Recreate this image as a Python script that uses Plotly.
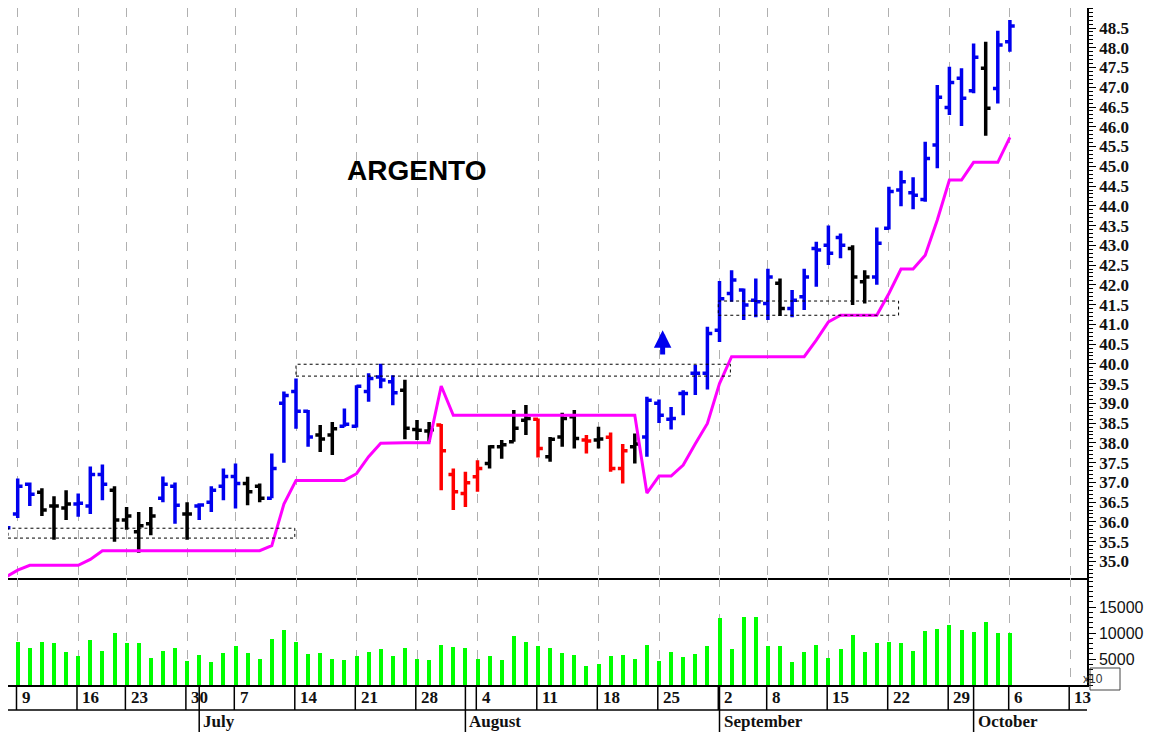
import plotly.graph_objects as go

dates = ["06-06","06-09","06-10","06-11","06-12","06-13","06-16","06-17","06-18","06-19",
 "06-23","06-24","06-25","06-26","06-27","06-30","07-01","07-02","07-03","07-07","07-08","07-09",
 "07-10","07-11","07-14","07-15","07-16","07-17","07-18","07-21","07-22","07-23","07-24","07-25",
 "07-28","07-29","07-30","07-31","08-01","08-04","08-05","08-06","08-07","08-08","08-11","08-12",
 "08-13","08-14","08-15","08-18","08-19","08-20","08-21","08-22","08-25","08-26","08-27","08-28",
 "08-29","09-02","09-03","09-04","09-05","09-08","09-09","09-10","09-11","09-12","09-15","09-16",
 "09-17","09-18","09-19","09-22","09-23","09-24","09-25","09-26","09-29","09-30","10-01","10-02",
 "10-03","10-06"]
opens = [35.8,36.2,36.95,36.75,36.4,36.35,36.45,36.4,37.2,36.8,
 36.05,35.75,35.95,36.6,36.9,36.2,36.4,36.5,36.9,37.15,36.97,36.9,
 36.6,39.0,39.3,38.8,38.2,38.2,38.42,38.42,39.3,39.67,39.55,39.33,
 38.34,38.3,38.45,37.2,36.72,37.14,37.48,37.9,38.03,38.57,38.6,37.65,
 38.15,38.66,38.07,38.07,38.14,37.35,37.9,38.15,39.0,38.6,39.25,39.76,
 39.76,40.85,41.78,41.87,41.61,41.53,42.04,41.4,41.7,42.92,43.0,43.2,
 42.92,42.08,42.2,43.43,44.4,44.33,44.16,45.54,46.49,47.23,46.91,47.48,
 46.97,48.15]
highs = [36.55,37.1,37.0,36.85,36.65,36.8,36.72,37.4,37.45,36.9,
 36.38,36.25,36.38,37.15,37.0,36.5,36.47,36.9,37.35,37.48,37.14,36.97,
 37.73,39.3,39.63,38.83,38.45,38.53,38.87,39.46,39.76,40.0,39.71,39.6,
 38.58,38.53,38.48,37.35,37.27,37.56,37.94,38.07,38.83,38.96,38.62,38.15,
 38.76,38.83,38.2,38.41,38.26,37.97,38.24,39.17,39.1,38.91,39.33,39.97,
 40.94,42.1,42.37,41.91,42.16,42.41,42.16,41.87,42.41,43.09,43.5,43.3,
 43.0,42.37,43.45,44.48,44.89,44.72,45.62,47.06,47.52,47.48,48.11,48.15,
 48.43,48.7]
lows = [35.75,36.1,36.4,36.15,35.55,36.05,36.13,36.2,36.55,35.5,
 35.8,35.22,35.66,36.5,35.95,35.55,36.05,36.25,36.55,36.34,36.42,36.5,
 36.6,37.5,38.36,37.9,37.77,37.69,38.41,38.39,39.04,39.38,38.95,38.09,
 38.07,38.03,36.8,36.3,36.38,36.76,37.35,37.6,38.03,38.2,37.63,37.52,
 37.9,37.86,37.73,37.86,37.27,36.97,37.48,37.65,38.5,38.34,38.7,39.21,
 39.35,40.55,41.57,41.11,41.18,41.11,41.21,41.18,41.36,41.95,42.5,42.67,
 41.49,41.53,42.0,43.4,43.99,43.91,44.1,44.95,46.3,46.02,46.85,45.77,
 46.59,47.9]
closes = [35.85,36.9,36.7,36.3,36.4,36.45,36.47,37.2,36.95,36.05,
 36.15,35.9,36.15,36.95,36.42,36.2,36.43,36.8,37.15,36.97,36.76,36.6,
 37.35,39.2,38.8,38.15,38.1,38.36,38.47,39.43,39.63,39.59,39.27,38.37,
 38.32,38.33,37.8,36.76,36.99,37.35,37.9,37.95,38.37,38.62,37.86,38.09,
 38.62,38.11,38.05,38.1,37.35,37.8,37.97,39.08,38.7,38.62,39.25,39.76,
 40.77,41.65,42.12,41.49,41.57,42.2,41.4,41.61,42.2,42.88,42.8,43.0,
 42.2,42.2,43.05,44.36,44.61,44.27,45.2,46.75,47.12,46.72,47.76,46.47,
 48.07,48.55]
bar_colors = list("bbbkkkbbbkkkkbbkbbbbkkbbbbkkbbbbbkkkrrrrkkkkrkkkrkrrkbbbbbbbbbbbkbbbbbkkbbbbbbbbbkbb")
stop_line = [34.6,34.78,34.9,34.9,34.9,34.9,34.9,35.05,35.27,35.27,
 35.27,35.27,35.27,35.27,35.27,35.27,35.27,35.27,35.27,35.27,35.27,35.27,
 35.4,36.45,37.05,37.05,37.05,37.05,37.05,37.22,37.65,37.99,38.0,38.0,
 38.0,38.0,39.44,38.7,38.7,38.7,38.7,38.7,38.7,38.7,38.7,38.7,
 38.7,38.7,38.7,38.7,38.7,38.7,38.7,36.73,37.16,37.16,37.44,37.98,
 38.49,39.5,40.18,40.18,40.18,40.18,40.18,40.18,40.18,40.6,41.06,41.23,
 41.23,41.23,41.23,41.78,42.4,42.4,42.75,43.64,44.65,44.65,45.1,45.1,
 45.1,45.73]
volumes = [8820,8310,7150,8240,8050,6380,5540,8570,6630,9920,8050,8050,5150,6630,7210,4640,
 5730,4440,6120,7470,6120,4960,8820,10500,8310,6050,6120,4960,4770,5540,6380,6960,5540,7150,
 5020,4770,7730,7280,7150,5020,5540,4770,9400,8310,7470,7210,6120,5800,
 3740,4120,5540,5730,4960,7660,4570,6310,5470,5990,7410,12880,6890,13010,13010,7470,7410,4380,
 6310,7660,5220,6890,9530,6310,8050,8240,8050,6570,10430,10750,11530,10560,10180,12110,9920,9980]

day_tick_idx = [1,6,10,15,19,24,29,34,39,44,49,54,59,63,68,73,78,83,88]
day_tick_text = ["9","16","23","30","7","14","21","28","4","11","18","25","2","8","15","22","29","6","13"]
month_idx = [16,38,59,80]
month_text = ["July","August","September","October"]
vol_ticks = [5000, 10000, 15000]
title_text = "ARGENTO"

# page has an 8px body margin: figure occupies (8,8)-(1159,732)
OFF = 8
W, H = 1159 - OFF, 732 - OFF
def fx(px): return (px - OFF) / W
def fy(py): return 1 - (py - OFF) / H

xs = list(range(len(dates)))
cmap = {"b": "#0000ee", "k": "#000000", "r": "#ff0000"}

fig = go.Figure()
for key, col in cmap.items():
    sel = [i for i in xs if bar_colors[i] == key]
    fig.add_trace(go.Ohlc(x=sel, open=[opens[i] for i in sel], high=[highs[i] for i in sel],
        low=[lows[i] for i in sel], close=[closes[i] for i in sel],
        increasing=dict(line=dict(color=col, width=3.5)), decreasing=dict(line=dict(color=col, width=3.5)),
        tickwidth=0.4, xaxis="x", yaxis="y", showlegend=False, hoverinfo="skip"))
fig.add_trace(go.Scatter(x=xs, y=stop_line, mode="lines", line=dict(color="#ff00ff", width=3),
                         xaxis="x", yaxis="y", showlegend=False))
fig.add_trace(go.Bar(x=xs, y=volumes, marker=dict(color="#00ff00", line=dict(width=0)), width=0.33,
                     xaxis="x2", yaxis="y2", showlegend=False))

xr = [(OFF - 5.6) / 12.1, (1087 - 5.6) / 12.1]
serif = dict(family="Liberation Serif", size=17, color="#111")
common_x = dict(range=xr, domain=[0, fx(1087)], tickvals=day_tick_idx, showticklabels=False,
                showgrid=True, gridcolor="#b0b0b0", griddash="dash", gridwidth=1,
                zeroline=False, showline=True, linecolor="black", linewidth=1.5, ticks="",
                rangeslider=dict(visible=False))
fig.update_layout(
    width=W, height=H, margin=dict(l=0, r=0, t=0, b=0),
    paper_bgcolor="white", plot_bgcolor="white", bargap=0,
    xaxis=dict(**common_x, anchor="y"),
    xaxis2=dict(**common_x, anchor="y2"),
    yaxis=dict(domain=[fy(578), 1], range=[34.58, 48.5 + 20 / 39.5], side="right", anchor="x",
               tickvals=[35+0.5*i for i in range(28)], ticktext=[f"<b>{35+0.5*i:.1f}</b>" for i in range(28)],
               ticks="outside", ticklen=7, tickcolor="black", showgrid=False, zeroline=False,
               showline=True, linecolor="black", linewidth=1.5,
               tickfont=dict(family="Liberation Serif", size=17, color="#111"),
               minor=dict(dtick=0.1, ticks="outside", ticklen=4, tickcolor="black")),
    yaxis2=dict(domain=[fy(685), fy(578)], range=[0, 20580], side="right", anchor="x2",
                tickvals=vol_ticks, ticktext=[str(v) for v in vol_ticks], ticks="outside", ticklen=7,
                tickcolor="black", showgrid=False, zeroline=False, showline=True, linecolor="black",
                linewidth=1.5, tickfont=dict(family="Liberation Sans", size=16, color="#111"),
                minor=dict(dtick=1000, ticks="outside", ticklen=4, tickcolor="black")),
)

shapes = []
def rect(x0, x1, y0, y1):
    shapes.append(dict(type="rect", xref="x", yref="y", x0=x0, x1=x1, y0=y0, y1=y1,
                       line=dict(color="black", width=1, dash="dot")))
rect(xr[0], 23.9, 35.59, 35.84)
rect(24.0, 59.9, 39.69, 39.99)
rect(58.9, 73.8, 41.23, 41.59)

yb, ym = fy(685), fy(710)
shapes.append(dict(type="line", xref="x2", yref="paper", x0=xr[0], x1=xr[1], y0=ym, y1=ym,
                   line=dict(color="black", width=1.5)))
for t in day_tick_idx:
    shapes.append(dict(type="line", xref="x2", yref="paper", x0=t-0.1, x1=t-0.1, y0=ym, y1=yb,
                       line=dict(color="black", width=1.5)))
for m in month_idx:
    shapes.append(dict(type="line", xref="x2", yref="paper", x0=m, x1=m, y0=0, y1=yb,
                       line=dict(color="black", width=1.5)))
shapes.append(dict(type="rect", xref="paper", yref="paper", x0=fx(1090), x1=fx(1120),
                   y0=fy(690), y1=fy(668), line=dict(color="#444", width=1)))
fig.update_layout(shapes=shapes)

ann = []
for t, s in zip(day_tick_idx, day_tick_text):
    ann.append(dict(x=t, y=fy(697), xref="x2", yref="paper", text=f"<b>{s}</b>", showarrow=False,
                    xanchor="left", yanchor="middle", xshift=2, font=serif))
for m, s in zip(month_idx, month_text):
    ann.append(dict(x=m, y=fy(721), xref="x2", yref="paper", text=f"<b>{s}</b>", showarrow=False,
                    xanchor="left", yanchor="middle", xshift=2, font=serif))
ann.append(dict(x=fx(1105), y=fy(679), xref="paper", yref="paper", text="x10", showarrow=False,
                yanchor="middle", font=dict(family="Liberation Sans", size=12, color="#333")))
ann.append(dict(x=34, y=44.9, xref="x", yref="y", text=f"<b>{title_text}</b>", showarrow=False,
                yanchor="middle", font=dict(family="Liberation Sans", size=28, color="black")))
ann.append(dict(x=54.3, y=40.85, xref="x", yref="y", ax=54.3, ay=40.2, axref="x", ayref="y",
                text="", showarrow=True, arrowhead=2, arrowsize=0.7, arrowwidth=5, arrowcolor="#0000ee"))
fig.update_layout(annotations=ann)
fig.write_html("out.html")
